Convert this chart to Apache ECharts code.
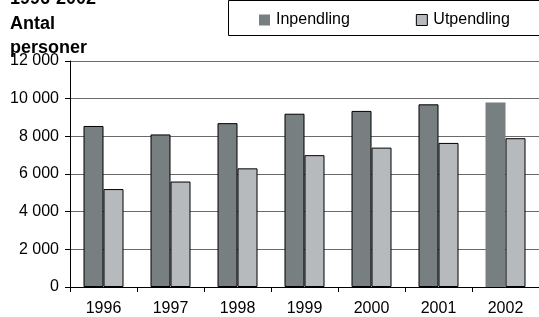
<!DOCTYPE html>
<html>
<head>
<meta charset="utf-8">
<script src="https://cdn.jsdelivr.net/npm/echarts@6/dist/echarts.min.js"></script>
<style>
  html, body { margin: 0; padding: 0; background: #fff; }
  #chart { width: 539px; height: 317px; }
</style>
</head>
<body>
<div id="chart"></div>
<script>
var years = ['1996', '1997', '1998', '1999', '2000', '2001', '2002'];
var inpendling = [8550, 8100, 8700, 9200, 9350, 9700, 9800];
var utpendling = [5200, 5600, 6300, 7000, 7400, 7650, 7900];
var seriesNames = ['Inpendling', 'Utpendling'];

var FONT = '"Liberation Sans", Arial, sans-serif';

function fmt(v) {
    return String(v).replace(/\B(?=(\d{3})+(?!\d))/g, ' ');
}

var chart = echarts.init(document.getElementById('chart'));

chart.setOption({
    animation: false,
    backgroundColor: '#fff',
    title: {
        text: '1996-2002\nAntal\npersoner',
        left: 5,
        top: -18,
        textStyle: { fontFamily: FONT, fontSize: 18, fontWeight: 'bold', color: '#000', lineHeight: 24.5 }
    },
    graphic: [{
        type: 'rect',
        shape: { x: 228.5, y: 0.5, width: 330, height: 35 },
        style: { fill: '#fff', stroke: '#000', lineWidth: 1 },
        z: 0
    }],
    legend: {
        left: 259,
        top: 12,
        padding: 0,
        itemWidth: 11,
        itemHeight: 11,
        itemGap: 66,
        icon: 'rect',
        textStyle: { fontFamily: FONT, fontSize: 16, color: '#000', padding: [0, 0, 0, 1] },
        data: [
            { name: seriesNames[0], itemStyle: { borderWidth: 0 } },
            { name: seriesNames[1], itemStyle: { borderColor: '#000', borderWidth: 1 } }
        ],
        z: 5
    },
    grid: { left: 70, top: 61, width: 480, bottom: 28, containLabel: false },
    xAxis: {
        type: 'category',
        data: years,
        axisLine: { lineStyle: { color: '#000', width: 1 } },
        axisTick: { show: true, length: 5, lineStyle: { color: '#000' } },
        axisLabel: { fontFamily: FONT, fontSize: 16, color: '#000', margin: 14 }
    },
    yAxis: {
        type: 'value',
        min: 0,
        max: 12000,
        interval: 2000,
        axisLine: { show: true, lineStyle: { color: '#000', width: 1 } },
        axisTick: { show: true, length: 5, lineStyle: { color: '#000' } },
        axisLabel: { fontFamily: FONT, fontSize: 16, color: '#000', margin: 11, formatter: fmt },
        splitLine: { lineStyle: { color: '#6a6a6a', width: 1 } }
    },
    series: [
        {
            name: seriesNames[0],
            type: 'bar',
            barWidth: 20,
            barGap: '0%',
            itemStyle: { color: '#777f80', borderColor: '#000', borderWidth: 1 },
            data: inpendling.map(function (v, i) {
                return i === inpendling.length - 1 ? { value: v, itemStyle: { borderWidth: 0 } } : v;
            })
        },
        {
            name: seriesNames[1],
            type: 'bar',
            barWidth: 20,
            barGap: '0%',
            itemStyle: { color: '#b7babd', borderColor: '#000', borderWidth: 1 },
            data: utpendling
        }
    ]
});
</script>
</body>
</html>
